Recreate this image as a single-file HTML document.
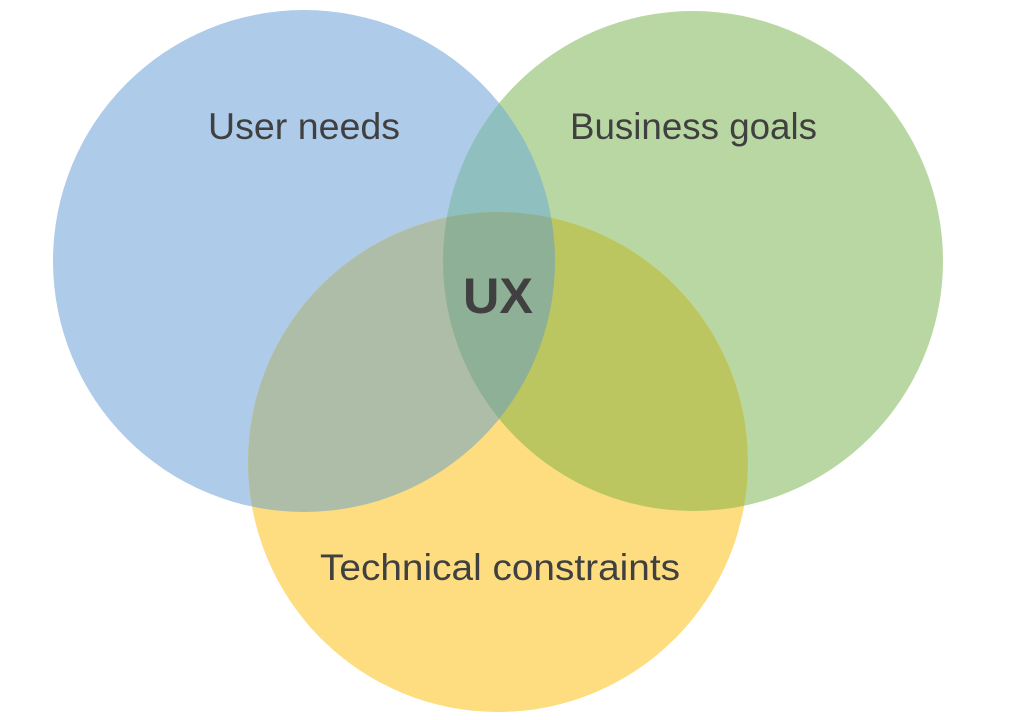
<!DOCTYPE html>
<html><head><meta charset="utf-8"><style>
html,body{margin:0;padding:0;background:#fff;width:1024px;height:720px;overflow:hidden}
text{font-family:"Liberation Sans",sans-serif;fill:#404040}
</style></head><body>
<svg width="1024" height="720" viewBox="0 0 1024 720" xmlns="http://www.w3.org/2000/svg">
<defs>
<clipPath id="cb"><circle cx="304" cy="261" r="251"/></clipPath>
<clipPath id="cg"><circle cx="693" cy="261" r="250"/></clipPath>
<clipPath id="cy"><circle cx="498" cy="462" r="250"/></clipPath>
</defs>
<circle cx="304" cy="261" r="251" fill="#aecbe9"/>
<circle cx="693" cy="261" r="250" fill="#b9d7a3"/>
<circle cx="498" cy="462" r="250" fill="#fddd80"/>
<g clip-path="url(#cb)"><circle cx="693" cy="261" r="250" fill="#8fbfbf"/><circle cx="498" cy="462" r="250" fill="#adbda8"/></g>
<g clip-path="url(#cg)"><circle cx="498" cy="462" r="250" fill="#bbc661"/></g>
<g clip-path="url(#cb)"><g clip-path="url(#cg)"><circle cx="498" cy="462" r="250" fill="#8eb097"/></g></g>
<text x="208" y="139" font-size="37" textLength="192" lengthAdjust="spacingAndGlyphs">User needs</text>
<text x="570" y="139" font-size="37" textLength="247" lengthAdjust="spacingAndGlyphs">Business goals</text>
<text x="463" y="313" font-size="50" font-weight="bold" textLength="70" lengthAdjust="spacingAndGlyphs">UX</text>
<text x="320" y="580" font-size="37" textLength="360" lengthAdjust="spacingAndGlyphs">Technical constraints</text>
</svg>
</body></html>
